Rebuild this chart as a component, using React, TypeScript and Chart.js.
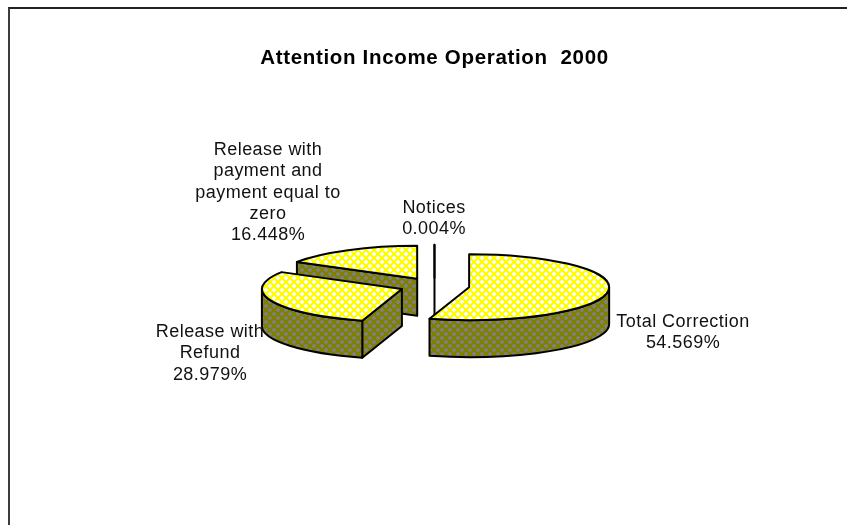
import React, { useEffect, useRef } from "react";
import { Chart, registerables } from "chart.js";

Chart.register(...registerables);

const chartTitle = "Attention Income Operation  2000";
const categories = ["Total Correction", "Release with Refund", "Release with payment and payment equal to zero", "Notices"];
const shares = [54.569, 28.979, 16.448, 0.004];
const labelLines = [["Total Correction"], ["Release with", "Refund"], ["Release with", "payment and", "payment equal to", "zero"], ["Notices"]];

// Centre x and first baseline of each slice caption.
const labelAnchors = [
  { x: 683, y: 327 },
  { x: 210, y: 337 },
  { x: 268, y: 155 },
  { x: 434, y: 213 },
];

const FONT = '"Liberation Sans", Arial, sans-serif';
const TILT = 33 / 140;
const DEPTH = 37;
const RADIUS = 140;
const EXPLODE = 35;
const LINE_HEIGHT = 21.3;

// Rounded blob of the dither, stepped across the tile in a staggered layout.
const BLOB = [[1, 0], [2, 0], [0, 1], [1, 1], [2, 1], [3, 1], [0, 2], [1, 2], [2, 2], [3, 2], [1, 3], [2, 3]];

// Builds an 8x8 dithered fill from a base colour and a spot colour.
function dither(ctx: CanvasRenderingContext2D, base: string, spot: string) {
  const tile = document.createElement("canvas");
  tile.width = 8;
  tile.height = 8;
  const t = tile.getContext("2d")!;
  t.fillStyle = base;
  t.fillRect(0, 0, 8, 8);
  t.fillStyle = spot;
  for (const [x, y] of BLOB) {
    t.fillRect(x, y, 1, 1);
    t.fillRect(x + 4, y + 4 > 7 ? y - 4 : y + 4, 1, 1);
  }
  return ctx.createPattern(tile, "repeat")!;
}

// Paints each pie arc as a flattened, extruded wedge, back to front.
const extrudedPie = {
  id: "extrudedPie",
  beforeDraw(chart: any) {
    (chart.ctx as any).letterSpacing = "0.68px";
  },
  beforeDatasetDraw(chart: any, args: any) {
    const ctx: CanvasRenderingContext2D = chart.ctx;
    const topFill = dither(ctx, "#ffff00", "#ffffff");
    const sideFill = dither(ctx, "#808000", "#808080");
    const wedges = args.meta.data.map((arc: any) => {
      const { x, y, startAngle, endAngle, outerRadius } = arc.getProps(["x", "y", "startAngle", "endAngle", "outerRadius"], true);
      const mid = (startAngle + endAngle) / 2;
      const offset = arc.options.offset;
      return {
        cx: x + Math.cos(mid) * offset,
        cy: y + Math.sin(mid) * offset * TILT,
        r: outerRadius,
        s: startAngle,
        e: endAngle,
      };
    });
    wedges.sort((a: any, b: any) => a.cy - b.cy);

    ctx.save();
    ctx.lineWidth = 2;
    ctx.lineJoin = "round";
    ctx.strokeStyle = "#000000";
    for (const w of wedges) {
      const ry = w.r * TILT;
      const px = (a: number) => w.cx + Math.cos(a) * w.r;
      const py = (a: number) => w.cy + Math.sin(a) * ry;

      // Radial cut faces turned toward the viewer.
      const cuts: number[] = [];
      if (-Math.cos(w.s) > 1e-9) cuts.push(w.s);
      if (Math.cos(w.e) > 1e-9) cuts.push(w.e);
      for (const a of cuts) {
        ctx.beginPath();
        ctx.moveTo(w.cx, w.cy);
        ctx.lineTo(px(a), py(a));
        ctx.lineTo(px(a), py(a) + DEPTH);
        ctx.lineTo(w.cx, w.cy + DEPTH);
        ctx.closePath();
        ctx.fillStyle = sideFill;
        ctx.fill();
        ctx.stroke();
      }

      // Outer wall along the front half of the rim.
      const from = Math.max(w.s, 0);
      const to = Math.min(w.e, Math.PI);
      if (to > from) {
        ctx.beginPath();
        ctx.ellipse(w.cx, w.cy, w.r, ry, 0, from, to);
        ctx.lineTo(px(to), py(to) + DEPTH);
        ctx.ellipse(w.cx, w.cy + DEPTH, w.r, ry, 0, to, from, true);
        ctx.closePath();
        ctx.fillStyle = sideFill;
        ctx.fill();
        ctx.stroke();
      }

      // Top face.
      ctx.beginPath();
      ctx.moveTo(w.cx, w.cy);
      ctx.ellipse(w.cx, w.cy, w.r, ry, 0, w.s, w.e);
      ctx.closePath();
      ctx.fillStyle = topFill;
      ctx.fill();
      ctx.stroke();
    }
    ctx.restore();
    return false;
  },
  afterDraw(chart: any) {
    const ctx: CanvasRenderingContext2D = chart.ctx;
    ctx.save();
    ctx.font = `18px ${FONT}`;
    (ctx as any).letterSpacing = "0.45px";
    ctx.fillStyle = "#111111";
    ctx.textAlign = "center";
    ctx.textBaseline = "alphabetic";
    labelLines.forEach((lines, i) => {
      const anchor = labelAnchors[i];
      [...lines, `${shares[i].toFixed(3)}%`].forEach((line, k) => {
        ctx.fillText(line, anchor.x, anchor.y + k * LINE_HEIGHT);
      });
    });
    ctx.restore();
  },
};

export default function App() {
  const ref = useRef<HTMLCanvasElement>(null);
  useEffect(() => {
    const chart = new Chart(ref.current!, {
      type: "pie",
      data: {
        labels: categories,
        datasets: [{ data: shares, offset: EXPLODE, hoverOffset: 0, borderWidth: 0 }],
      },
      options: {
        animation: false,
        responsive: false,
        radius: RADIUS,
        layout: { padding: { left: 22, top: 0, bottom: 23.3, right: 0 } },
        events: [],
        plugins: {
          legend: { display: false },
          tooltip: { enabled: false },
          title: {
            display: true,
            text: chartTitle,
            color: "#000000",
            font: { family: FONT, size: 20.5, weight: "bold", lineHeight: 1.2 },
            padding: { top: 45.7, bottom: 0 },
          },
        },
      } as any,
      plugins: [extrudedPie],
    });
    return () => chart.destroy();
  }, []);

  return (
    <div style={{ position: "absolute", left: 0, top: 0, width: 847, height: 525, overflow: "hidden", background: "#ffffff" }}>
      <canvas ref={ref} width={847} height={525} style={{ display: "block" }} />
      <div style={{ position: "absolute", left: 8, top: 7, right: 0, bottom: 0, borderTop: "2px solid #222222", borderLeft: "2px solid #3c3c3c" }} />
    </div>
  );
}
